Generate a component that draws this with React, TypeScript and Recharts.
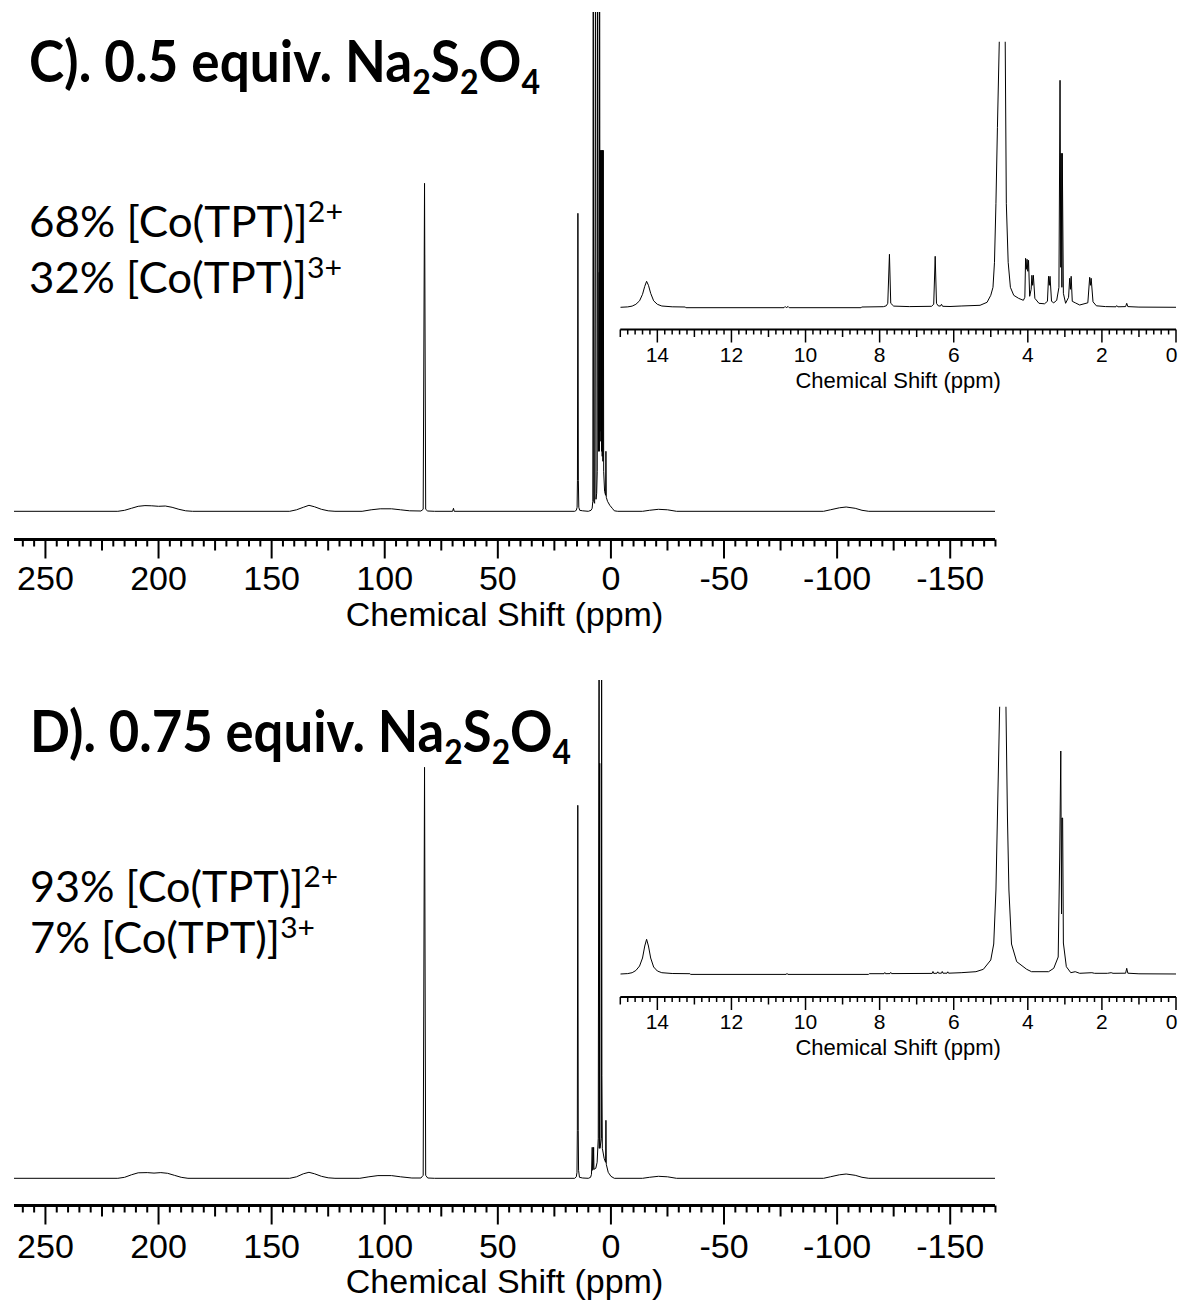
import React, { useLayoutEffect, useRef, useState } from "react"
import { LineChart, Line, XAxis, YAxis } from "recharts"

type Pt = [number, number]

// wide-sweep spectra: [ppm, intensity]
const mainC: Pt[] = [
  [264, 0], [218, 0], [215, 1], [212, 3], [209, 5], [206, 5.7], [203, 5.5], [200, 5], [197, 5.3], [194, 4], [191, 2], [188, 0.5], [185, 0],
  [142, 0], [139, 1.5], [136, 4], [133.5, 6], [131, 4.5], [128, 2], [125, 0.5], [122, 0],
  [110, 0], [106, 1.5], [102, 2.5], [97, 2.5], [93, 1.5], [89, 0.5], [84, 0.3],
  [83, 2], [82.4, 328], [81.9, 2], [81, 0.3], [78, 0],
  [70, 0], [69.6, 3], [69.3, 0],
  [16, 0], [15.3, 1], [14.95, 4], [14.8, 31], [14.6, 298], [14.4, 31], [14.2, 4], [13.8, 1], [12.5, 0.5], [10, 0],
  [8.8, 1], [8.3, 3], [8.0, 10], [7.81, 620], [7.6, 10], [7.2, 8], [6.78, 620], [6.6, 12], [6.3, 18], [6.05, 40],
  [5.89, 620], [5.5, 60], [5.16, 239], [5.1, 60], [5.01, 620], [4.8, 80], [4.57, 361], [4.45, 70], [4.3, 361],
  [4.15, 60], [4.0, 361], [3.85, 55], [3.7, 361], [3.55, 50], [3.39, 361], [3.2, 40], [2.8, 20], [2.35, 16],
  [2.21, 60], [2.05, 14], [1.5, 10], [0.5, 6], [-0.6, 3], [-1.5, 0.5], [-3, 0],
  [-14, 0], [-17, 1], [-21, 2], [-25, 1.5], [-29, 0],
  [-94, 0], [-97, 1.5], [-101, 3.5], [-104, 4.3], [-108, 3], [-111, 1], [-114, 0], [-170, 0],
]

const mainD: Pt[] = [
  [264, 0], [218, 0], [215, 1], [212, 3.5], [209, 5.5], [205, 5.7], [202, 5.2], [199, 5.7], [196, 5], [193, 3], [190, 1], [187, 0],
  [142, 0], [139, 1.5], [136, 4.5], [133.5, 6], [131, 4.5], [128, 2], [125, 0.5], [122, 0],
  [111, 0], [107, 1.5], [103, 2.7], [97, 2.7], [93, 1.5], [88, 0.3], [84, 0.3],
  [83, 3], [82.4, 411], [81.9, 3], [81, 0.3], [78, 0],
  [16, 0], [15.3, 1.5], [15.0, 6], [14.85, 48], [14.65, 373], [14.45, 48], [14.3, 8], [13.9, 1], [12.5, 0.3], [10, 0],
  [9.0, 1], [8.6, 4], [8.27, 31], [8.1, 8], [7.85, 9], [7.65, 31], [7.5, 9], [6.7, 10], [6.1, 16], [5.6, 40],
  [5.2, 620], [5.15, 30], [4.95, 415], [4.85, 30], [4.2, 40], [4.12, 620], [3.98, 103], [3.8, 30], [3.0, 20], [2.35, 16],
  [2.21, 58], [2.05, 14], [1.2, 6], [0, 2], [-1.5, 0],
  [-14, 0], [-17, 1], [-21, 2], [-25, 1.5], [-29, 0],
  [-94, 0], [-97, 1.5], [-101, 3.5], [-104, 4.3], [-108, 3], [-111, 1], [-114, 0], [-170, 0],
]

// 1H insets, 15 -> 0 ppm
const insetC: Pt[] = [
  [15, 0], [14.8, 0.4], [14.68, 1.2], [14.58, 3], [14.48, 6.5], [14.4, 13], [14.34, 21], [14.29, 26], [14.24, 22], [14.18, 14],
  [14.1, 6.5], [14.0, 3], [13.88, 1.3], [13.6, 0.5], [13.25, 0.3], [13.23, -0.4], [10.58, -0.4], [10.55, 0.8], [10.52, -0.4],
  [10.47, 0.8], [10.44, -0.4], [8.5, -0.4], [8.48, 0.3], [7.9, 0.6], [7.82, 1.5], [7.78, 4], [7.735, 53], [7.7, 4], [7.62, 1.2],
  [7.2, 0.7], [6.6, 1], [6.54, 3], [6.5, 51], [6.465, 4], [6.42, 1.5], [6.36, 1.2], [6.33, 3], [6.3, 1], [6.1, 0.8], [5.8, 1.3],
  [5.29, 2], [5.1, 5], [5.0, 12], [4.94, 20], [4.9, 45], [4.86, 104], [4.82, 180], [4.77, 266], [4.69, 420],
  [4.61, 266], [4.58, 104], [4.53, 45], [4.47, 20], [4.38, 12], [4.25, 9], [4.12, 7],
  [4.08, 10], [4.06, 49], [4.04, 38], [4.02, 48], [4.0, 36], [3.98, 47], [3.95, 11], [3.91, 18], [3.89, 32], [3.87, 22],
  [3.85, 32], [3.81, 9], [3.7, 4], [3.55, 3.5], [3.47, 6], [3.44, 31], [3.42, 22], [3.4, 31], [3.36, 6], [3.3, 4.5],
  [3.22, 7], [3.16, 20], [3.13, 227], [3.11, 40], [3.1, 154], [3.08, 20], [3.07, 154], [3.04, 14], [2.98, 4],
  [2.9, 10], [2.87, 29], [2.85, 18], [2.83, 31], [2.8, 6], [2.72, 4.5], [2.6, 2.3], [2.38, 4.5], [2.33, 30], [2.31, 22],
  [2.29, 29], [2.24, 5.5], [2.15, 1.5], [1.9, 0.7], [1.62, 0.5], [1.6, 1.7], [1.57, 0.5], [1.36, 0.7], [1.33, 4],
  [1.3, 0.7], [1.0, 0.2], [-0.1, 0],
]

const insetD: Pt[] = [
  [15, 0], [14.8, 0.4], [14.68, 1.3], [14.58, 3.5], [14.48, 8], [14.4, 16], [14.34, 28], [14.29, 34.7], [14.24, 28], [14.18, 16],
  [14.1, 7], [14.0, 3], [13.88, 1.3], [13.6, 0.5], [13.12, 0.3], [13.1, -0.4], [10.52, -0.4], [10.5, 0.6], [10.48, -0.4],
  [8.3, -0.4], [8.28, 0.3], [7.88, 0.3], [7.86, 1.5], [7.84, 0.3], [7.72, 0.4], [7.7, 1.6], [7.68, 0.4],
  [6.58, 0.6], [6.56, 2.5], [6.54, 0.6], [6.45, 0.8], [6.43, 2.2], [6.41, 0.8], [6.33, 0.8], [6.31, 2.5], [6.29, 0.8],
  [6.18, 0.8], [6.16, 2.2], [6.14, 0.8], [5.8, 1.3], [5.4, 2.3], [5.2, 4.7], [5.0, 14], [4.92, 30], [4.86, 84],
  [4.82, 157], [4.76, 267], [4.67, 420], [4.59, 267], [4.55, 157], [4.51, 84], [4.44, 30], [4.3, 12.3], [4.03, 4.7],
  [3.9, 2.3], [3.44, 2.3], [3.3, 5.7], [3.18, 17], [3.14, 117], [3.11, 223], [3.09, 60], [3.08, 156], [3.06, 156],
  [3.04, 31], [2.96, 7.3], [2.84, 1.3], [2.72, 2.3], [2.6, 0.7], [2.27, 1.3], [2.2, 0.7], [1.85, 0.7], [1.75, 1.3],
  [1.7, 0.7], [1.36, 0.8], [1.33, 5.7], [1.3, 0.8], [1.0, 0.2], [-0.1, 0],
]

const mainLabels = [250, 200, 150, 100, 50, 0, -50, -100, -150]
const insetLabels = [14, 12, 10, 8, 6, 4, 2, 0]

const steps = (from: number, to: number, step: number) => {
  const out: number[] = []
  for (let v = from; v >= to - 1e-9; v -= step) out.push(Math.round(v * 10) / 10)
  return out
}

const mainTicks = steps(260, -170, 5)
const insetTicks = steps(15, 0, 0.2)

const AXIS_FONT = "'Liberation Sans', Arial, sans-serif"
const TITLE_FONT = "Lato, 'Open Sans', sans-serif"

interface AxisStyle {
  labels: number[]
  major: number
  mid: number
  lenMinor: number
  lenMid: number
  lenMajor: number
  tickWidth: number
  fontSize: number
  labelDy: number
  endLabel?: boolean
}

const mainAxisC: AxisStyle = {
  labels: mainLabels, major: 50, mid: 25, lenMinor: 7, lenMid: 11, lenMajor: 19,
  tickWidth: 2, fontSize: 34, labelDy: 50.5,
}
const mainAxisD: AxisStyle = { ...mainAxisC, labelDy: 52 }

const insetAxisC: AxisStyle = {
  labels: insetLabels, major: 2, mid: 1, lenMinor: 5, lenMid: 7.5, lenMajor: 13,
  tickWidth: 1.5, fontSize: 21, labelDy: 32, endLabel: true,
}
const insetAxisD: AxisStyle = { ...insetAxisC, labelDy: 31.5 }

const isMultiple = (v: number, m: number) => Math.abs(v / m - Math.round(v / m)) < 1e-6

function makeTick(a: AxisStyle) {
  return (props: any) => {
    const { x, y, payload } = props
    const v = Math.round(payload.value * 10) / 10
    const len = isMultiple(v, a.major) ? a.lenMajor : isMultiple(v, a.mid) ? a.lenMid : a.lenMinor
    const labelled = a.labels.includes(v)
    const atEnd = a.endLabel && v === 0
    return (
      <g>
        <line x1={x} x2={x} y1={y} y2={y + len} stroke="#000" strokeWidth={a.tickWidth} />
        {labelled && (
          <text
            x={atEnd ? x + 1.5 : x}
            y={y + a.labelDy}
            textAnchor={atEnd ? "end" : "middle"}
            fontFamily={AXIS_FONT}
            fontSize={a.fontSize}
            fill="#000"
          >
            {v}
          </text>
        )}
      </g>
    )
  }
}

interface SpectrumProps {
  points: Pt[]
  left: number
  top: number
  width: number
  height: number
  margin: { top: number; right: number; bottom: number; left: number }
  xDomain: [number, number]
  yDomain: [number, number]
  ticks: number[]
  axis: AxisStyle
  axisHeight: number
  axisStroke: number
  titleSize: number
  titleDy: number
}

function Spectrum(p: SpectrumProps) {
  const rows = p.points.map(([ppm, v]) => ({ ppm, v }))
  return (
    <div style={{ position: "absolute", left: p.left, top: p.top }}>
      <LineChart width={p.width} height={p.height} data={rows} margin={p.margin}>
        <XAxis
          dataKey="ppm"
          type="number"
          domain={p.xDomain}
          reversed
          ticks={p.ticks}
          interval={0}
          tickSize={0}
          tickMargin={0}
          tickLine={false}
          height={p.axisHeight}
          axisLine={{ stroke: "#000", strokeWidth: p.axisStroke }}
          tick={makeTick(p.axis)}
          allowDataOverflow
          label={{
            content: (lp: any) => {
              const vb = lp.viewBox || { x: 0, y: 0, width: 0 }
              return (
                <text
                  x={vb.x + vb.width / 2}
                  y={vb.y + p.titleDy}
                  textAnchor="middle"
                  fontFamily={AXIS_FONT}
                  fontSize={p.titleSize}
                  fill="#000"
                >
                  Chemical Shift (ppm)
                </text>
              )
            },
          }}
        />
        <YAxis hide type="number" domain={p.yDomain} allowDataOverflow />
        <Line
          dataKey="v"
          type="linear"
          dot={false}
          stroke="#000"
          strokeWidth={1}
          isAnimationActive={false}
        />
      </LineChart>
    </div>
  )
}

// a line of text made of runs (for sub/superscripts), laid out side by side
// and squeezed horizontally to a given overall width
interface Run { t: string; size: number; dy?: number }

function RunText({ x, y, width, runs, bold }: { x: number; y: number; width: number; runs: Run[]; bold?: boolean }) {
  const refs = useRef<(SVGTextElement | null)[]>([])
  const [widths, setWidths] = useState<number[] | null>(null)
  useLayoutEffect(() => {
    setWidths(refs.current.map((el) => (el ? el.getComputedTextLength() : 0)))
  }, [])
  const total = widths ? widths.reduce((s, w) => s + w, 0) : 0
  const sx = widths && total > 0 ? width / total : 1
  let cursor = 0
  return (
    <g transform={`translate(${x},${y}) scale(${sx},1)`}>
      {runs.map((r, i) => {
        const rx = cursor
        cursor += widths ? widths[i] : 0
        return (
          <text
            key={i}
            ref={(el) => { refs.current[i] = el }}
            x={rx}
            y={r.dy || 0}
            fontSize={r.size}
            fontWeight={bold ? 700 : 400}
            fontFamily={TITLE_FONT}
            fill="#000"
          >
            {r.t}
          </text>
        )
      })}
    </g>
  )
}

const formula = (lead: string): Run[] => [
  { t: lead, size: 58 },
  { t: "2", size: 35, dy: 12 },
  { t: "S", size: 58 },
  { t: "2", size: 35, dy: 12 },
  { t: "O", size: 58 },
  { t: "4", size: 35, dy: 12 },
]

const species = (lead: string, charge: string): Run[] => [
  { t: lead, size: 42 },
  { t: charge, size: 29, dy: -15 },
]

function Annotations() {
  return (
    <svg width={1180} height={1301} style={{ position: "absolute", left: 0, top: 0, pointerEvents: "none" }}>
      <RunText x={29} y={82} width={511} bold runs={formula("C). 0.5 equiv. Na")} />
      <RunText x={29} y={236.7} width={314} runs={species("68% [Co(TPT)]", "2+")} />
      <RunText x={29} y={292.5} width={313} runs={species("32% [Co(TPT)]", "3+")} />
      <RunText x={30} y={752} width={541} bold runs={formula("D). 0.75 equiv. Na")} />
      <RunText x={30} y={901.7} width={308} runs={species("93% [Co(TPT)]", "2+")} />
      <RunText x={30} y={953.3} width={285} runs={species("7% [Co(TPT)]", "3+")} />
    </svg>
  )
}

export default function App() {
  return (
    <div
      style={{
        position: "absolute",
        left: 0,
        top: 0,
        width: 1180,
        height: 1301,
        background: "#fff",
        overflow: "hidden",
      }}
    >
      {/* wide sweep, 0.5 equiv */}
      <Spectrum
        points={mainC}
        left={0}
        top={0}
        width={1180}
        height={640}
        margin={{ top: 12, right: 185, bottom: 5.5, left: 14 }}
        xDomain={[-169.8, 263.9]}
        yDomain={[-28.2, 499.3]}
        ticks={mainTicks}
        axis={mainAxisC}
        axisHeight={95}
        axisStroke={3}
        titleSize={34}
        titleDy={86}
      />
      {/* 1H inset, 0.5 equiv */}
      <Spectrum
        points={insetC}
        left={600}
        top={20}
        width={580}
        height={380}
        margin={{ top: 21.7, right: 4, bottom: 5.5, left: 20.3 }}
        xDomain={[0, 15]}
        yDomain={[-22.2, 265.6]}
        ticks={insetTicks}
        axis={insetAxisC}
        axisHeight={65}
        axisStroke={2}
        titleSize={22}
        titleDy={58.5}
      />
      {/* wide sweep, 0.75 equiv */}
      <Spectrum
        points={mainD}
        left={0}
        top={660}
        width={1180}
        height={641}
        margin={{ top: 20, right: 185, bottom: 3.5, left: 14 }}
        xDomain={[-169.8, 263.9]}
        yDomain={[-27.2, 498.3]}
        ticks={mainTicks}
        axis={mainAxisD}
        axisHeight={92}
        axisStroke={3}
        titleSize={34}
        titleDy={87}
      />
      {/* 1H inset, 0.75 equiv */}
      <Spectrum
        points={insetD}
        left={600}
        top={690}
        width={580}
        height={380}
        margin={{ top: 16.7, right: 4, bottom: 8, left: 20.3 }}
        xDomain={[0, 15]}
        yDomain={[-23, 267.3]}
        ticks={insetTicks}
        axis={insetAxisD}
        axisHeight={65}
        axisStroke={2}
        titleSize={22}
        titleDy={58}
      />
      <Annotations />
    </div>
  )
}
